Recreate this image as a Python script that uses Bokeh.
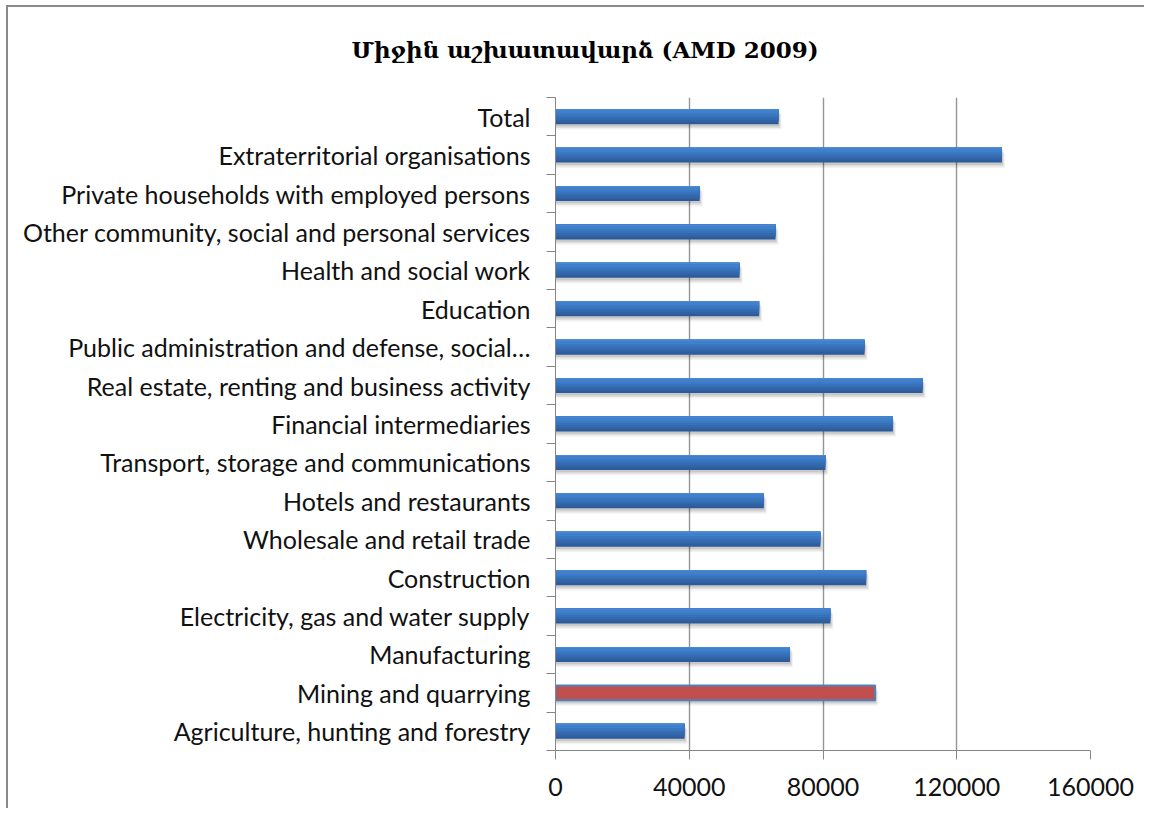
from bokeh.plotting import figure
from bokeh.models import Range1d, FixedTicker, ColumnDataSource, NumeralTickFormatter, Title
from bokeh.transform import dodge
from bokeh.embed import file_html
from bokeh.resources import INLINE

# ---- data (bottom to top) ----
categories = [
    "Agriculture, hunting and forestry",
    "Mining and quarrying",
    "Manufacturing",
    "Electricity, gas and water supply",
    "Construction",
    "Wholesale and retail trade",
    "Hotels and restaurants",
    "Transport, storage and communications",
    "Financial intermediaries",
    "Real estate, renting and business activity",
    "Public administration and defense, social\u2026",
    "Education",
    "Health and social work",
    "Other community, social and personal services",
    "Private households with employed persons",
    "Extraterritorial organisations",
    "Total",
]
values = [38600, 95600, 70100, 82200, 92900, 79200, 62300, 80700, 100900,
          109800, 92400, 60900, 55000, 65800, 43100, 133500, 66700]
highlight = "Mining and quarrying"
x_ticks = [0, 40000, 80000, 120000, 160000]
title_text = "Միջին աշխատավարձ (AMD 2009)"

pos = [i + 0.5 for i in range(len(categories))]
blue = ColumnDataSource(dict(y=[p_ for p_, c in zip(pos, categories) if c != highlight],
                             v=[v for v, c in zip(values, categories) if c != highlight]))
red = ColumnDataSource(dict(y=[p_ for p_, c in zip(pos, categories) if c == highlight],
                            v=[v for v, c in zip(values, categories) if c == highlight]))
allsrc = ColumnDataSource(dict(y=pos, v=values))

XMAX = 160000
NCAT = len(categories)
OX, OY = 8, 7                      # where the chart's outer border sits on the page
W, H = 1146 - OX, 810 - OY
FL, FT, FR, FB = 555 - OX, 97 - OY, 1090 - OX, 750 - OY   # frame edges inside the canvas
p = figure(width=W, height=H, x_range=Range1d(0, XMAX), y_range=Range1d(0, NCAT),
           output_backend="svg", toolbar_location=None,
           min_border_left=FL, min_border_right=W - FR, min_border_top=FT, min_border_bottom=H - FB)
p.outline_line_color = None
p.background_fill_color = "white"
p.border_fill_color = "white"
p.styles = {"border-left": "2px solid #8a8a8a", "border-top": "2px solid #8a8a8a",
            "margin-left": f"{OX - 2}px", "margin-top": f"{OY - 2}px"}

# spacer between title and plot frame
p.add_layout(Title(text=" ", text_font_size="1px", standoff=30), "above")
# title
p.title.text = title_text
p.title.text_font = "DejaVu Serif"
p.title.text_font_style = "bold"
p.title.text_font_size = "23px"
p.title.text_color = "#000000"
p.title.align = "left"
p.title.offset = 351 - 555
p.title.standoff = 4

# grid
p.xgrid.ticker = FixedTicker(ticks=x_ticks)
p.xgrid.grid_line_color = "#959595"
p.xgrid.grid_line_width = 1.4
p.ygrid.grid_line_color = None

# x axis
xa = p.xaxis[0]
xa.ticker = FixedTicker(ticks=x_ticks)
xa.formatter = NumeralTickFormatter(format="0")
xa.axis_line_color = "#868686"
xa.major_tick_line_color = "#868686"
xa.major_tick_out = 9
xa.major_tick_in = 0
xa.minor_tick_line_color = None
xa.major_label_text_font = "Lato"
xa.major_label_text_font_size = "25px"
xa.major_label_text_color = "#111111"
xa.major_label_standoff = 18

# y axis
ya = p.yaxis[0]
ya.ticker = FixedTicker(ticks=pos, minor_ticks=list(range(NCAT + 1)))
ya.major_label_overrides = {y: c for y, c in zip(pos, categories)}
ya.axis_line_color = "#868686"
ya.major_tick_line_color = None
ya.major_tick_out = 0
ya.major_tick_in = 0
ya.minor_tick_line_color = "#868686"
ya.minor_tick_out = 9
ya.minor_tick_in = 0
ya.major_label_text_font = "Lato"
ya.major_label_text_font_size = "25px"
ya.major_label_text_color = "#111111"
ya.major_label_standoff = 16

h = 0.39
# soft shadows
for dy, dx, a in [(-0.14, 900, 0.05), (-0.10, 600, 0.08), (-0.06, 300, 0.10)]:
    p.hbar(y=dodge("y", dy, range=p.y_range), right=dodge("v", dx, range=p.x_range), left=0, height=h,
           source=allsrc, fill_color="#000000", fill_alpha=a, line_color=None)

# gradient blue bars: layered, anchored at the top edge
grad = ["#2d5b9a", "#3062a4", "#3469ae", "#3771b8", "#3b78c2", "#3f7fcb", "#4a8ad4"]
n = len(grad)
for k, col in enumerate(grad):
    hh = h * (n - k) / n if k < n - 1 else h * 0.08
    off = h / 2 - hh / 2
    p.hbar(y=dodge("y", off, range=p.y_range), right="v", left=0, height=hh,
           source=blue, fill_color=col, line_color=None)

# highlighted bar
p.hbar(y="y", right="v", left=0, height=h, source=red, fill_color="#c0504d",
       line_color="#4f81bd", line_width=2)

open("out.html", "w").write(file_html(p, INLINE))
